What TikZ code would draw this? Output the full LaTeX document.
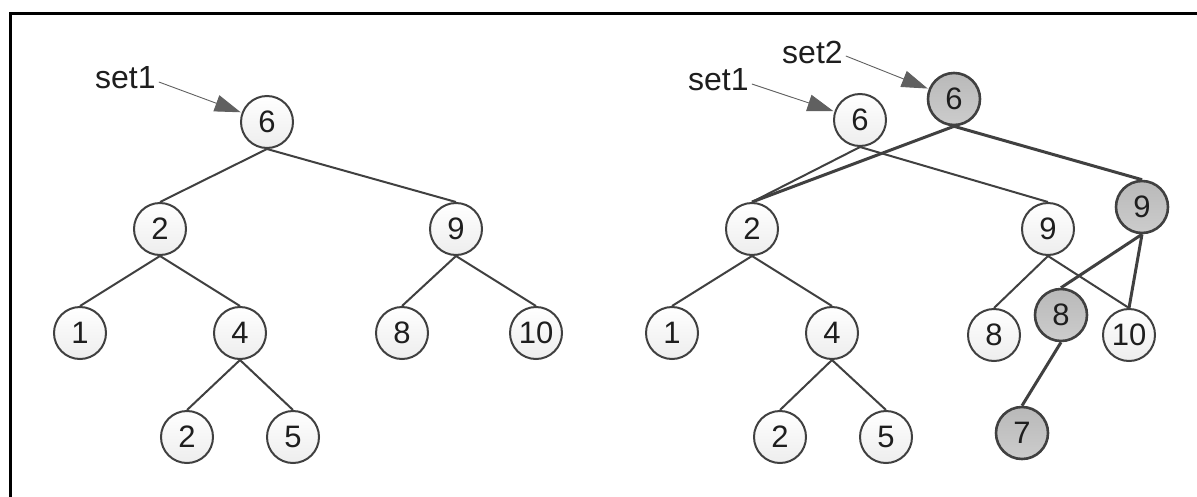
\documentclass[tikz,border=0pt]{standalone}
\usepackage{fontspec}
\setmainfont{Liberation Sans}
\usetikzlibrary{arrows.meta}
\definecolor{edgec}{HTML}{404040}
\definecolor{textc}{HTML}{1E1E1E}
\tikzset{
  wn/.style={circle, draw=edgec, line width=2pt, minimum size=52pt, inner sep=0pt,
    top color=white, bottom color=gray!14, text=textc, font=\fontsize{31}{31}\selectfont},
  gn/.style={wn, line width=2.6pt, top color=gray!55, bottom color=gray!40},
  we/.style={draw=edgec, line width=2pt},
  ge/.style={draw=edgec, line width=3pt},
  lbl/.style={anchor=west, inner sep=0pt, text=textc, font=\fontsize{32}{32}\selectfont},
  pointer/.style={draw=gray!75!black, line width=0.9pt, -{Triangle[length=26pt,width=17pt]}, shorten >=1pt},
}
\begin{document}
\begin{tikzpicture}[x=1pt,y=-1pt]
\useasboundingbox (0,0) rectangle (1197,496);
\draw[line width=3pt, black] (10.5,13.5) rectangle (1210,510);
% left tree
\node[wn] (a6) at (267,122) {6};
\node[wn] (a2) at (160,229) {2};
\node[wn] (a9) at (456,229) {9};
\node[wn] (a1) at (80,333) {1};
\node[wn] (a4) at (240,333) {4};
\node[wn] (a8) at (402,333) {8};
\node[wn] (a10) at (536,333) {10};
\node[wn] (a2b) at (187,437) {2};
\node[wn] (a5) at (293,437) {5};
\node[lbl] (as1) at (95,78) {set1};
\draw[we] (a6.south) -- (a2.north);
\draw[we] (a6.south) -- (a9.north);
\draw[we] (a2.south) -- (a1.north);
\draw[we] (a2.south) -- (a4.north);
\draw[we] (a9.south) -- (a8.north);
\draw[we] (a9.south) -- (a10.north);
\draw[we] (a4.south) -- (a2b.north);
\draw[we] (a4.south) -- (a5.north);
\draw[pointer] (as1.east) ++(3,4) -- (a6);
% right tree
\node[wn] (b6) at (860,120) {6};
\node[wn] (b2) at (752,229) {2};
\node[wn] (b9) at (1048,229) {9};
\node[wn] (b1) at (672,333) {1};
\node[wn] (b4) at (832,333) {4};
\node[wn] (b8) at (994,335) {8};
\node[wn] (b10) at (1129,335) {10};
\node[wn] (b2b) at (780,437) {2};
\node[wn] (b5) at (886,437) {5};
\node[gn] (c6) at (954,99) {6};
\node[gn] (c9) at (1142,207) {9};
\node[gn] (c8) at (1061,315) {8};
\node[gn] (c7) at (1022,433) {7};
\node[lbl] (bs1) at (688,80) {set1};
\node[lbl] (bs2) at (782,52) {set2};
\draw[we] (b6.south) -- (b2.north);
\draw[we] (b6.south) -- (b9.north);
\draw[we] (b2.south) -- (b1.north);
\draw[we] (b2.south) -- (b4.north);
\draw[we] (b9.south) -- (b8.north);
\draw[we] (b9.south) -- (b10.north);
\draw[we] (b4.south) -- (b2b.north);
\draw[we] (b4.south) -- (b5.north);
\draw[ge] (c6.south) -- (b2.north);
\draw[ge] (c6.south) -- (c9.north);
\draw[ge] (c9.south) -- (c8.north);
\draw[ge] (c9.south) -- (b10.north);
\draw[ge] (c8.south) -- (c7.north);
\draw[pointer] (bs1.east) ++(3,4) -- (b6);
\draw[pointer] (bs2.east) ++(3,4) -- (c6);
\end{tikzpicture}
\end{document}
